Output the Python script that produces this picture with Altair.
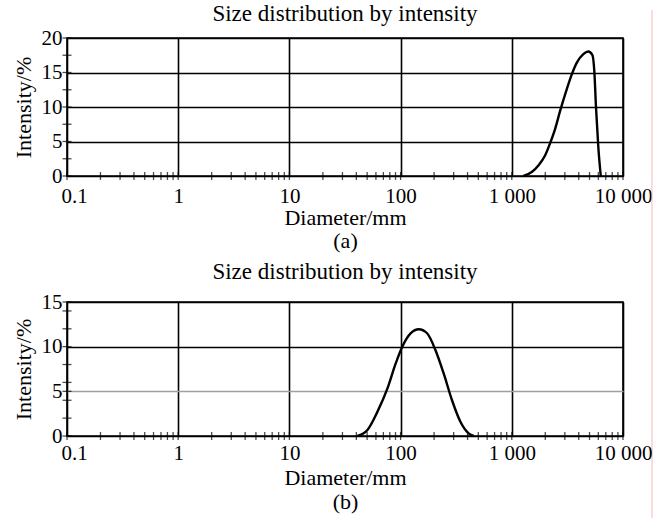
import altair as alt
import pandas as pd

# Panel (a): intensity distribution of the larger particles
diam_a = [1271, 1512, 1734, 1991, 2208, 2449, 2716, 3012, 3457, 3833,
          4399, 4879, 5299, 5522, 5720, 5997, 6310]
int_a = [0, 0.57, 1.53, 2.97, 4.74, 6.8, 9.4, 11.8, 14.7, 16.4,
         17.66, 18.04, 17.56, 15.2, 9.9, 4.2, 0]

# Panel (b): intensity distribution of the smaller particles
diam_b = [40.9, 50.3, 61.8, 76, 90.2, 103.5, 123, 146, 173, 206,
          244, 290, 345, 409, 454]
int_b = [0, 0.67, 2.7, 5.3, 8.1, 10.0, 11.5, 11.95, 11.5, 9.6,
         7.0, 4.0, 1.6, 0.3, 0]

decades = [0.1, 1, 10, 100, 1000, 10000]
decade_labels = ["0.1", "1", "10", "100", "1 000", "10 000"]
minor_x = [m * d for d in [0.1, 1, 10, 100, 1000] for m in range(2, 10)]

y_ticks_a = [0, 5, 10, 15, 20]
y_minor_a = [2.5, 7.5, 12.5, 17.5]
y_ticks_b = [0, 5, 10, 15]
y_minor_b = [2, 4, 6, 8, 12, 14]

FONT = "Liberation Serif"
W = 556

label_expr = " : ".join(
    f"datum.value == {v} ? '{t}'" for v, t in zip(decades, decade_labels)
) + " : ''"


def panel(diam, inten, ymax, yticks, yminor, height, caption, gray_at,
          cap_gap, title_offset, label_pad, xtitle_pad, extra=None):
    xscale = alt.Scale(type="log", domain=[0.1, 10000])
    yscale = alt.Scale(domain=[0, ymax], nice=False)
    x_axis = alt.Axis(
        values=decades, labelExpr=label_expr, title=["Diameter/mm", caption],
        titleLineHeight=cap_gap, titleFont=FONT, titleFontSize=22,
        titleFontWeight="normal", titlePadding=xtitle_pad, titleBaseline="top",
        titleColor="black",
        ticks=False, domain=False, grid=True, gridColor="black", gridWidth=1.6,
        labelFlush=False, labelFont=FONT, labelFontSize=21, labelColor="black",
        labelPadding=label_pad,
        labelOffset={"condition": {"test": "datum.value == 0.1", "value": 7}, "value": 0},
    )
    y_axis = alt.Axis(
        values=yticks, title="Intensity/%", titleFont=FONT, titleFontSize=22,
        titleFontWeight="normal", titlePadding=6, titleColor="black",
        ticks=False, domain=False, grid=True,
        gridColor={"condition": {"test": f"datum.value == {gray_at}", "value": "#a0a0a0"},
                   "value": "black"},
        gridWidth=1.6, labelFont=FONT, labelFontSize=21, labelColor="black",
        labelPadding=5,
    )
    x_enc = alt.X("d:Q", scale=xscale, axis=x_axis)
    y_enc = alt.Y("v:Q", scale=yscale, axis=y_axis)

    curve = alt.Chart(pd.DataFrame({"d": diam, "v": inten})).mark_line(
        color="black", strokeWidth=2.4, interpolate="monotone"
    ).encode(x=x_enc, y=y_enc)

    xt = alt.Chart(pd.DataFrame({"d": minor_x + decades})).mark_tick(
        color="black", size=8, thickness=1.3
    ).encode(x=x_enc, y=alt.value(height))

    yt = alt.Chart(pd.DataFrame({"v": yminor + yticks})).mark_tick(
        color="black", size=9, thickness=1.3
    ).encode(y=y_enc, x=alt.value(0))

    layers = [curve, xt, yt]
    if extra is not None:
        layers.append(extra)
    return alt.layer(*layers).properties(
        width=W, height=height,
        title=alt.TitleParams("Size distribution by intensity", font=FONT,
                              fontSize=23, fontWeight="normal", color="black",
                              offset=title_offset, frame="group"),
    )


# thin pink margin line along the right edge of the page; it reaches 28 px
# above the first panel, so that panel's title offset is reduced to match
MARGIN_TOP = 28
margin_line = alt.Chart(pd.DataFrame({"k": [0]})).mark_rule(
    color="#f7b8b8", strokeWidth=1
).encode(x=alt.value(585), y=alt.value(-MARGIN_TOP), y2=alt.value(480))

top = panel(diam_a, int_a, 20, y_ticks_a, y_minor_a, 138, "(a)", -1, 23,
            12 - MARGIN_TOP, 9, 1, margin_line)
bottom = panel(diam_b, int_b, 15, y_ticks_b, y_minor_b, 134, "(b)", 5, 24, 7, 6, 4)

chart = alt.vconcat(top, bottom, spacing=126, bounds="flush").configure_view(
    stroke="black", strokeWidth=1.6
).properties(padding={"left": 11, "top": 1, "right": 0, "bottom": 0})

chart.save("out.html", embed_options={"renderer": "svg", "actions": False})
